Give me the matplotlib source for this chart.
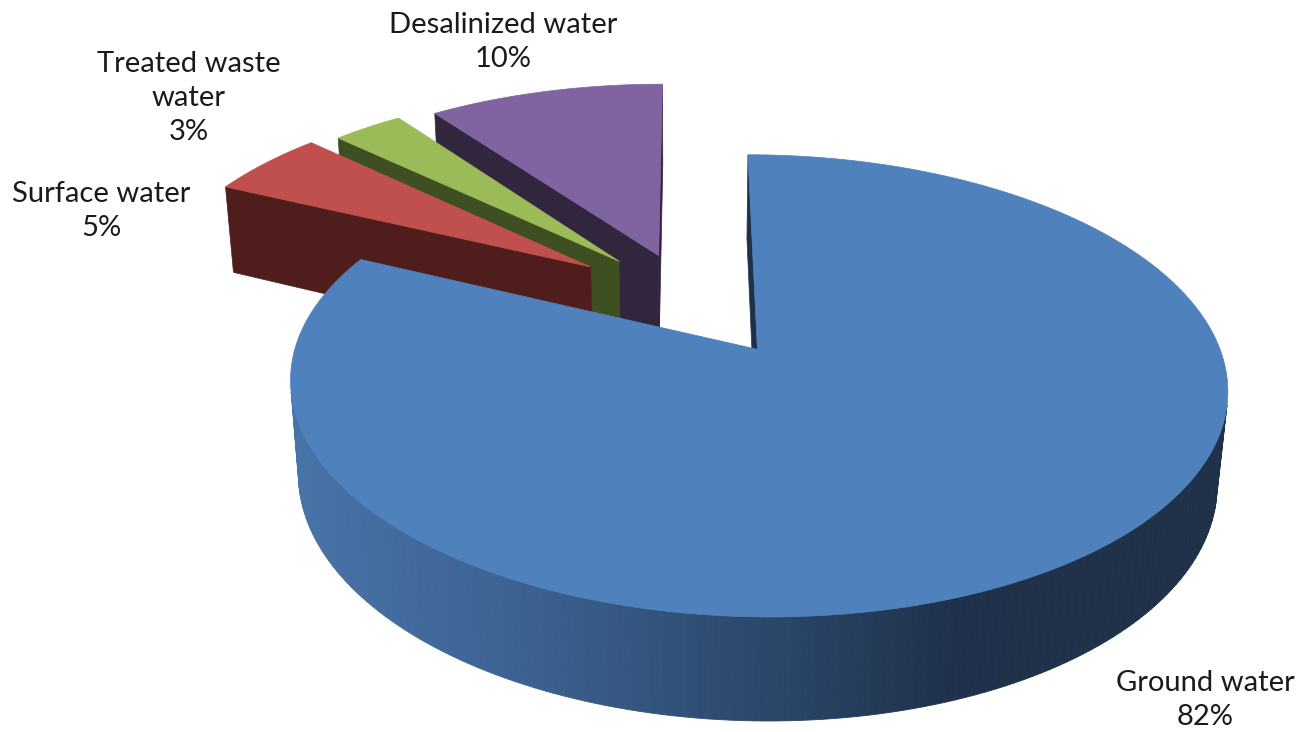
import numpy as np
import matplotlib.pyplot as plt
from matplotlib.patches import Polygon

# data, in the order the slices are laid out clockwise from 12 o'clock
names = ['Ground water', 'Surface water', 'Treated waste\nwater', 'Desalinized water']
values = [82, 5, 3, 10]
pct_text = ['82%', '5%', '3%', '10%']

top_colors = ['#4F81BD', '#C0504D', '#9BBB59', '#8064A2']
side_colors = ['#1F3148', '#4F1E1C', '#3E4F22', '#32263F']
explode = [0.28, 0.27, 0.24, 0.22]
label_xy = [(1205, 700), (101, 211), (189, 98), (503, 42)]

# blue outer wall shading, by screen x
wall_x = [300, 520, 780, 950, 1300]
wall_rgb = [(72, 115, 168), (60, 98, 145), (42, 70, 105), (32, 50, 75), (31, 48, 72)]

# simple perspective camera (pixel units)
TILT = np.radians(28)
DIST = 5.8
SCALE = 446
CX, CY = 688, 298
HEIGHT = 0.235
CAM = np.array([0.0, -DIST * np.cos(TILT), DIST * np.sin(TILT)])


def project(x, y, z):
    x, y, z = np.broadcast_arrays(np.asarray(x, float), np.asarray(y, float), np.asarray(z, float))
    d = DIST + y * np.cos(TILT) - z * np.sin(TILT)
    sx = CX + SCALE * x * DIST / d
    sy = CY - SCALE * (y * np.sin(TILT) + z * np.cos(TILT)) * DIST / d
    return np.column_stack([sx, sy])


def faces_camera(nx, ny, px, py):
    return nx * (CAM[0] - px) + ny * (CAM[1] - py) > 0


def wall_color(sx):
    return tuple(np.interp(sx, wall_x, [c[k] for c in wall_rgb]) / 255 for k in range(3))


fig = plt.figure(figsize=(13.04, 7.32), dpi=100)
ax = fig.add_axes([0, 0, 1, 1])
ax.set_xlim(0, 1304)
ax.set_ylim(732, 0)
ax.axis('off')

# slice angles (math degrees), clockwise from 90
fracs = np.array(values, float) / sum(values)
ends = 90 - np.cumsum(fracs) * 360
starts = np.concatenate([[90], ends[:-1]])
slices = []
for i in range(len(values)):
    lo, hi = ends[i], starts[i]
    if i > 0:
        lo, hi = lo + 360, hi + 360
    slices.append((i, lo, hi))

# paint back to front: desalinized, treated, surface, ground
for i, lo, hi in [slices[3], slices[2], slices[1], slices[0]]:
    mid = np.radians((lo + hi) / 2)
    ox, oy = explode[i] * np.cos(mid), explode[i] * np.sin(mid)
    a = np.radians(np.linspace(lo, hi, 240))
    rx, ry = ox + np.cos(a), oy + np.sin(a)

    # radial side walls
    for ang, sgn in [(np.radians(lo), -1), (np.radians(hi), 1)]:
        nx, ny = -sgn * np.sin(ang), sgn * np.cos(ang)
        px, py = ox + 0.5 * np.cos(ang), oy + 0.5 * np.sin(ang)
        if faces_camera(nx, ny, px, py):
            ex, ey = ox + np.cos(ang), oy + np.sin(ang)
            quad = project([ox, ex, ex, ox], [oy, ey, ey, oy], [0, 0, -HEIGHT, -HEIGHT])
            ax.add_patch(Polygon(quad, closed=True, facecolor=side_colors[i],
                                 edgecolor=side_colors[i], lw=0.5))

    # outer curved wall
    top = project(rx, ry, 0)
    bot = project(rx, ry, -HEIGHT)
    for j in range(len(a) - 1):
        am = 0.5 * (a[j] + a[j + 1])
        if not faces_camera(np.cos(am), np.sin(am), ox + np.cos(am), oy + np.sin(am)):
            continue
        quad = np.array([top[j], top[j + 1], bot[j + 1], bot[j]])
        col = wall_color(quad[:, 0].mean()) if i == 0 else side_colors[i]
        ax.add_patch(Polygon(quad, closed=True, facecolor=col, edgecolor=col, lw=0.6))

    # top face
    face = np.vstack([project(ox, oy, 0), top])
    ax.add_patch(Polygon(face, closed=True, facecolor=top_colors[i],
                         edgecolor=top_colors[i], lw=0.5))

for i in range(len(values)):
    ax.text(label_xy[i][0], label_xy[i][1], names[i] + '\n' + pct_text[i],
            ha='center', va='center', multialignment='center', linespacing=1.4,
            fontsize=21, family='Lato', color='#1A1A1A')

fig.savefig('out.png', dpi=100)
